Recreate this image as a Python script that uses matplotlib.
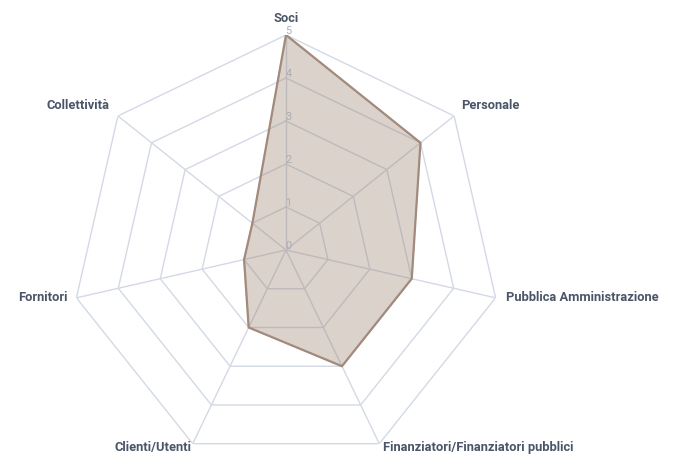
import numpy as np
import matplotlib
matplotlib.use("Agg")
import matplotlib.pyplot as plt

categories = ["Soci", "Personale", "Pubblica Amministrazione",
              "Finanziatori/Finanziatori pubblici", "Clienti/Utenti",
              "Fornitori", "Collettività"]
values = [5, 4, 3, 3, 2, 1, 1]
ticks = [0, 1, 2, 3, 4, 5]

grid_color = "#d3d9e5"
label_color = "#4a5568"
PX = 0.72  # points per pixel at dpi 100

fig = plt.figure(figsize=(6.75, 4.54), dpi=100)
# center ~ (286, 250) px, radius ~215 px
ax = fig.add_axes([71 / 675, -11 / 454, 430 / 675, 430 / 454], projection="polar")
ax.set_theta_offset(np.pi / 2)
ax.set_theta_direction(-1)
ax.set_ylim(0, 5)
ax.axis("off")

n = len(categories)
theta = np.arange(n) * 2 * np.pi / n
theta_closed = np.append(theta, theta[0])

# polygon rings + spokes
for t in ticks[1:]:
    ax.plot(theta_closed, [t] * (n + 1), color=grid_color, lw=1, zorder=1)
for th in theta:
    ax.plot([th, th], [0, 5], color=grid_color, lw=1, zorder=1)

vals = np.append(values, values[0])
ax.fill(theta_closed, vals, color=(150 / 255, 120 / 255, 100 / 255, 0.33), zorder=2)
ax.plot(theta_closed, vals, color="#a28b7c", lw=1.6, zorder=3)

# tick labels on first axis
for t in ticks:
    ax.annotate(str(t), xy=(0, t), xytext=(2.5 * PX, 4 * PX), textcoords="offset points",
                color="#a9adb5", fontsize=7.8, ha="center", va="center", zorder=4,
                family="Roboto", annotation_clip=False)

# category labels: offsets (px) from the outer vertex
offsets = [(0, 16, "center"), (7, 10, "left"), (10, 0, "left"), (4, -4, "left"),
           (-1, -4, "right"), (-9, 0, "right"), (-8, 10, "right")]
for th, name, (dx, dy, ha) in zip(theta, categories, offsets):
    ax.annotate(name, xy=(th, 5), xytext=(dx * PX, dy * PX), textcoords="offset points",
                ha=ha, va="center", color=label_color, fontsize=9.3,
                fontweight="bold", family="Roboto", annotation_clip=False)

fig.savefig("out.png", dpi=100)
